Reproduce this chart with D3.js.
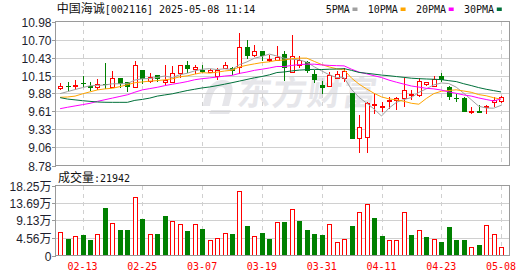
<!DOCTYPE html>
<html><head><meta charset="utf-8">
<script src="https://cdn.jsdelivr.net/npm/d3@7"></script>
<style>html,body{margin:0;padding:0;background:#fff;overflow:hidden}</style>
</head><body><svg id="c" width="530" height="276"></svg>
<script>
// ---- data ----
const stockName = "中国海诚";
const stockInfo = "[002116] 2025-05-08 11:14";
const volTitle = "成交量";
const volNow = ":21942";
const opens = [9.965,9.99,10.001,10.037,10.001,9.986,10.022,9.976,10.113,10.052,
  9.981,10.246,10.073,10.165,10.052,10.062,10.2,10.313,10.257,10.246,
  10.216,10.149,10.277,10.277,10.282,10.584,10.461,10.522,10.389,10.389,
  10.487,10.211,10.318,10.354,10.185,10.016,9.996,10.124,10.113,9.883,
  9.194,9.219,9.705,9.669,9.766,9.776,9.817,9.858,9.858,10.032,
  10.001,10.154,9.986,9.807,9.807,9.592,9.613,9.674,9.745,9.766];
const highs = [10.047,10.052,10.083,10.144,10.052,10.098,10.343,10.226,10.113,10.052,
  10.374,10.246,10.19,10.17,10.318,10.303,10.31,10.374,10.318,10.308,
  10.257,10.277,10.354,10.292,10.803,10.696,10.619,10.522,10.471,10.599,
  10.522,10.778,10.456,10.369,10.241,10.078,10.216,10.231,10.267,9.885,
  9.551,9.745,9.883,9.745,9.832,9.832,10.124,9.935,10.113,10.062,
  10.149,10.2,10.001,9.868,9.832,9.679,9.705,9.71,9.832,9.848];
const lows = [9.93,9.924,9.935,9.986,9.919,9.935,9.95,9.96,9.96,9.909,
  9.97,10.022,10.037,10.052,10.011,10.037,10.113,10.19,10.175,10.195,
  10.19,10.083,10.267,10.165,10.185,10.41,10.435,10.379,10.354,10.369,
  10.073,10.19,10.267,10.2,10.037,9.873,9.99,10.113,10.062,9.18,
  8.964,8.964,9.562,9.602,9.643,9.628,9.679,9.781,9.832,10.001,
  9.986,10.062,9.781,9.745,9.6,9.562,9.585,9.562,9.679,9.73];
const closes = [10.001,9.98,10.016,10.022,9.97,10.032,10.006,10.113,10.022,9.98,
  10.308,10.098,10.139,10.103,10.088,10.19,10.308,10.257,10.282,10.216,
  10.236,10.241,10.313,10.231,10.584,10.446,10.522,10.451,10.405,10.44,
  10.277,10.451,10.395,10.231,10.088,9.96,10.16,10.175,10.221,9.183,
  9.362,9.73,9.72,9.684,9.786,9.807,9.94,9.873,10.078,10.062,
  10.103,10.088,9.832,9.797,9.602,9.613,9.587,9.694,9.781,9.822];
// volume in 万
const volumes = [6.08,4.23,5.2,5.29,4.05,5.73,12.43,8.37,6.61,6.61,
  15.25,9.52,5.73,5.55,10.3,8.9,8.1,6.35,8.1,6.87,
  4.14,4.67,5.99,5.55,16.84,7.67,5.2,5.82,4.23,8.64,
  8.73,12.08,8.99,6.61,5.55,5.29,8.1,3.44,4.4,7.67,
  11.28,13.4,9.79,5.03,3.97,4.14,11.28,5.29,6.52,4.76,
  4.4,3.44,7.41,3.97,3.97,2.3,2.64,7.85,5.73,2.19];
const volUp = [1,0,1,0,0,1,0,1,0,0, 1,0,1,0,0,1,1,0,1,0, 1,1,1,0,1,0,1,0,0,1,
  0,1,0,0,0,0,1,1,1,0, 1,1,0,0,1,1,1,0,1,0, 1,0,0,0,0,1,0,1,1,1];
// moving-average values before enough in-window closes exist
const ma5Lead = [9.878,9.909,9.94,9.97];
const ma10Lead = [9.822,9.827,9.84,9.875,9.905,9.935,9.95,9.96,9.985];
const ma20Lead = [9.648,9.67,9.69,9.71,9.73,9.76,9.785,9.81,9.835,9.86,9.9,9.935,9.955,9.975,10.0,10.022,10.04,10.062,10.09];
const ma30Lead = [9.817,9.795,9.783,9.77,9.76,9.75,9.746,9.745,9.745,9.745,9.775,9.79,9.81,9.84,9.858,9.875,9.9,9.925,9.945,9.965,9.98,10.0,10.022,10.045,10.07,10.095,10.12,10.14,10.165];
const maNames = ["5PMA","10PMA","20PMA","30PMA"];
const maPeriods = [5,10,20,30];
const maColors = ["#a0a0a0","#ffa500","#ff00ff","#00703a"];
const priceTicks = [10.98,10.70,10.43,10.15,9.88,9.61,9.33,9.06,8.78];
const volTicks = [18.25,13.69,9.13,4.56,0];
const volTickLabels = ["18.25","13.69","9.13","4.56","0"];
const dateTickIdx = [3,11,19,27,35,43,51,59];
const dateTickLabels = ["02-13","02-25","03-07","03-19","03-31","04-11","04-23","05-08"];

// ---- layout ----
const L=55.5, R=509.5, PT=21.5, PB=165.5, VT=185.5, VB=255.5;
const RED="#ff0000", GREEN="#008000", GRID="#d0d0d0", BORDER="#9a9a9a";
const MONO="'DejaVu Sans Mono', monospace", CJK="'Noto Sans CJK SC', sans-serif", SANS="'Liberation Sans', Arial, sans-serif";
const n = closes.length;
const svg = d3.select("#c");
svg.append("rect").attr("width",530).attr("height",276).attr("fill","#fff");

const x = d3.scaleLinear().domain([0, n-1]).range([60.1, 501.1]);
const yP = d3.scaleLinear().domain([8.78, 10.98]).range([PB, PT]);
const yV = d3.scaleLinear().domain([0, 18.25]).range([VB, VT]);

// watermark
const wm = svg.append("g").attr("fill","#e6e6ea");
wm.append("path").attr("transform","translate(201,76)")
  .attr("d","M2,30 C4,12 12,4 22,4 C30,4 33,10 31,18 L28,30 L21,30 L24,18 C25,13 23,11 20,11 C14,11 11,18 9,30 Z M10,34 L30,34 L28,38 L8,38 Z");
wm.append("text").attr("transform","translate(236,105) skewX(-8)")
  .attr("font-family",CJK).attr("font-weight",700).attr("font-size",34)
  .attr("letter-spacing",1).text("东方财富");

// grids
const gP = svg.append("g").attr("shape-rendering","crispEdges");
gP.selectAll("line.h").data(priceTicks.slice(1,-1)).join("line")
  .attr("x1",L).attr("x2",R).attr("y1",d=>Math.round(yP(d))+0.5).attr("y2",d=>Math.round(yP(d))+0.5)
  .attr("stroke",GRID);
gP.selectAll("line.hv").data(volTicks.slice(1,-1)).join("line")
  .attr("x1",L).attr("x2",R).attr("y1",d=>Math.round(yV(d))+0.5).attr("y2",d=>Math.round(yV(d))+0.5)
  .attr("stroke",GRID);
dateTickIdx.forEach(i=>{
  const xx = Math.round(x(i))+0.5;
  [[PT,PB],[VT,VB]].forEach(([a,b])=>{
    gP.append("line").attr("x1",xx).attr("x2",xx).attr("y1",a).attr("y2",b)
      .attr("stroke",GRID).attr("stroke-dasharray","4,4");
  });
});

// candles
const gC = svg.append("g").attr("shape-rendering","crispEdges");
for (let i=0;i<n;i++){
  const cx = Math.round(x(i));
  const o=opens[i], c=closes[i], h=highs[i], l=lows[i];
  const up = c >= o;
  const top = Math.round(yP(Math.max(o,c))), bot = Math.round(yP(Math.min(o,c)));
  const yh = Math.round(yP(h)), yl = Math.round(yP(l));
  if (up){
    if (yh < top) gC.append("line").attr("x1",cx+0.5).attr("x2",cx+0.5).attr("y1",yh).attr("y2",top).attr("stroke",RED);
    if (yl > bot) gC.append("line").attr("x1",cx+0.5).attr("x2",cx+0.5).attr("y1",bot).attr("y2",yl).attr("stroke",RED);
    gC.append("rect").attr("x",cx-1.5).attr("y",top+0.5).attr("width",4).attr("height",Math.max(bot-top,0))
      .attr("fill","#fff").attr("stroke",RED);
  } else {
    gC.append("line").attr("x1",cx+0.5).attr("x2",cx+0.5).attr("y1",yh).attr("y2",yl).attr("stroke",GREEN);
    gC.append("rect").attr("x",cx-2).attr("y",top).attr("width",5).attr("height",Math.max(bot-top,1))
      .attr("fill",GREEN);
  }
}

// moving averages
const maData = maPeriods.map((p,k)=>{
  const lead = [ma5Lead,ma10Lead,ma20Lead,ma30Lead][k];
  return closes.map((_,i)=> i < p-1 ? lead[i] : d3.mean(closes.slice(i-p+1,i+1)));
});
const line = d3.line().x((d,i)=>x(i)).y(d=>yP(d));
maData.forEach((arr,k)=>{
  svg.append("path").attr("d",line(arr)).attr("fill","none")
    .attr("stroke",maColors[k]).attr("stroke-width",1);
});

// volume bars
const gV = svg.append("g").attr("shape-rendering","crispEdges");
volumes.forEach((v,i)=>{
  const cx = Math.round(x(i));
  const yt = Math.round(yV(v));
  if (volUp[i]){
    gV.append("rect").attr("x",cx-1.5).attr("y",yt+0.5).attr("width",4).attr("height",Math.round(VB)-yt-1)
      .attr("fill","#fff").attr("stroke",RED);
  } else {
    gV.append("rect").attr("x",cx-2).attr("y",yt).attr("width",5).attr("height",Math.round(VB)-yt)
      .attr("fill",GREEN);
  }
});

// borders
const gB = svg.append("g").attr("shape-rendering","crispEdges").attr("fill","none").attr("stroke",BORDER);
gB.append("rect").attr("x",L).attr("y",PT).attr("width",R-L).attr("height",PB-PT);
gB.append("rect").attr("x",L).attr("y",VT).attr("width",R-L).attr("height",VB-VT);

// y axis labels + ticks
const gA = svg.append("g");
priceTicks.forEach(t=>{
  const yy = Math.round(yP(t))+0.5;
  gA.append("line").attr("x1",52).attr("x2",L).attr("y1",yy).attr("y2",yy).attr("stroke",BORDER).attr("shape-rendering","crispEdges");
  gA.append("text").attr("x",51.5).attr("y",yy+4.3).attr("text-anchor","end")
    .attr("font-family",SANS).attr("font-size",12).attr("fill","#1e1e2e").text(t.toFixed(2));
});
volTicks.forEach((t,k)=>{
  const yy = Math.round(yV(t))+0.5;
  gA.append("line").attr("x1",52).attr("x2",L).attr("y1",yy).attr("y2",yy).attr("stroke",BORDER).attr("shape-rendering","crispEdges");
  const tx = gA.append("text").attr("x",51.5).attr("y",yy+4.3).attr("text-anchor","end")
    .attr("font-size",12).attr("fill","#1e1e2e");
  tx.append("tspan").attr("font-family",SANS).text(volTickLabels[k]);
  if (t !== 0) tx.append("tspan").attr("font-family",CJK).text("万");
});

// date labels
dateTickIdx.forEach((idx,k)=>{
  svg.append("text").attr("x",x(idx)).attr("y",269.5).attr("text-anchor","middle")
    .attr("font-family",MONO).attr("font-size",10).attr("fill",RED).text(dateTickLabels[k]);
});

// header
const hd = svg.append("text").attr("x",56.8).attr("y",12.8).attr("fill","#111");
hd.append("tspan").attr("font-family",CJK).attr("font-size",12).text(stockName);
hd.append("tspan").attr("font-family",MONO).attr("font-size",10).text(stockInfo);

// legend
let lx = 325.7;
maNames.forEach((name,k)=>{
  svg.append("text").attr("x",lx).attr("y",12.8).attr("font-family",MONO).attr("font-size",10)
    .attr("fill","#111").text(name);
  const sx = lx + name.length*6.02 + 2.7;
  svg.append("rect").attr("x",sx).attr("y",7.5).attr("width",5).attr("height",3.5).attr("fill",maColors[k]);
  lx = sx + 5 + 10.3;
});

// volume title
const vt = svg.append("text").attr("x",58).attr("y",181.5).attr("fill","#111");
vt.append("tspan").attr("font-family",CJK).attr("font-size",12).text(volTitle);
vt.append("tspan").attr("font-family",MONO).attr("font-size",10).text(volNow);
</script></body></html>
